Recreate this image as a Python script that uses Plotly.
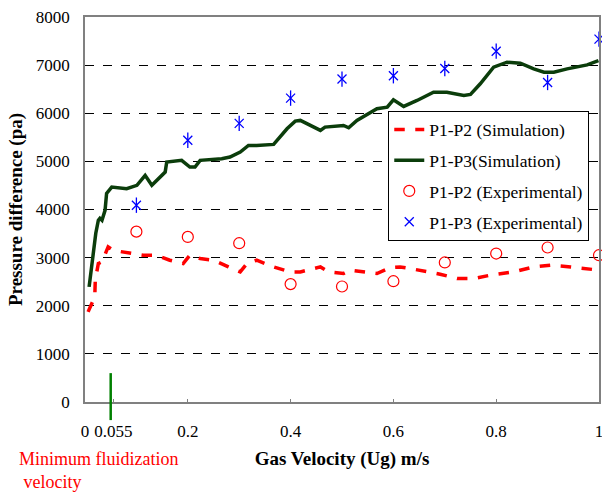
import plotly.graph_objects as go

# Simulation P1-P2 (red dashed)
sim12_x = [0.006, 0.013, 0.019, 0.020, 0.023, 0.026, 0.033, 0.045, 0.055, 0.070, 0.094, 0.113,
           0.139, 0.165, 0.191, 0.204, 0.224, 0.250, 0.279, 0.302, 0.315, 0.334, 0.367, 0.399,
           0.419, 0.458, 0.474, 0.503, 0.516, 0.542, 0.568, 0.594, 0.613, 0.633, 0.672, 0.691,
           0.724, 0.756, 0.789, 0.834, 0.873, 0.906, 0.945, 0.984, 1.0]
sim12_y = [1873, 2048, 2185, 2531, 2670, 2877, 2911, 3222, 3150, 3120, 3085, 3050,
           3050, 2946, 2877, 3050, 2981, 2946, 2807, 2703, 2877, 2946, 2807, 2703,
           2703, 2807, 2703, 2670, 2739, 2703, 2670, 2794, 2807, 2773, 2703, 2656,
           2566, 2566, 2635, 2703, 2807, 2842, 2807, 2753, 2739]

# Simulation P1-P3 (green solid)
sim13_x = [0.008, 0.021, 0.026, 0.029, 0.033, 0.039, 0.042, 0.052, 0.081, 0.101, 0.117, 0.130,
           0.156, 0.159, 0.188, 0.204, 0.214, 0.224, 0.266, 0.282, 0.302, 0.318, 0.334, 0.367,
           0.393, 0.409, 0.419, 0.432, 0.458, 0.467, 0.503, 0.513, 0.529, 0.568, 0.588, 0.600,
           0.620, 0.646, 0.678, 0.704, 0.737, 0.750, 0.769, 0.795, 0.821, 0.847, 0.873, 0.893,
           0.912, 0.938, 0.977, 0.999]
sim13_y = [2392, 3506, 3776, 3817, 3776, 3983, 4336, 4467, 4433, 4502, 4710, 4502,
           4778, 4986, 5021, 4882, 4882, 5021, 5056, 5089, 5193, 5332, 5332, 5353,
           5678, 5836, 5851, 5782, 5643, 5712, 5747, 5699, 5851, 6093, 6127, 6280,
           6141, 6266, 6438, 6438, 6369, 6390, 6612, 6957, 7061, 7040, 6922, 6853,
           6853, 6922, 7005, 7095]

# Experimental
exp_x = [0.1, 0.2, 0.3, 0.4, 0.5, 0.6, 0.7, 0.8, 0.9, 1.0]
exp12_y = [3540, 3430, 3300, 2450, 2400, 2510, 2900, 3085, 3210, 3050]
exp13_y = [4090, 5440, 5790, 6315, 6710, 6780, 6930, 7290, 6640, 7540]

x_tickvals = [0, 0.055, 0.2, 0.4, 0.6, 0.8, 1]
x_ticktext = ["0", "0.055", "0.2", "0.4", "0.6", "0.8", "1"]
y_tickvals = [0, 1000, 2000, 3000, 4000, 5000, 6000, 7000, 8000]

umf = 0.05
umf_marker_top = 600

serif = "Liberation Serif"

fig = go.Figure()
fig.add_trace(go.Scatter(x=sim12_x, y=sim12_y, mode="lines", name="P1-P2 (Simulation)",
                         line=dict(color="#ff0000", width=3.5, dash="dash"),
                         legendgroup="a", cliponaxis=False))
fig.add_trace(go.Scatter(x=sim13_x, y=sim13_y, mode="lines", name="P1-P3(Simulation)",
                         line=dict(color="#0b3d0b", width=3.5), legendgroup="b"))
fig.add_trace(go.Scatter(x=exp_x, y=exp12_y, mode="markers", name="P1-P2 (Experimental)",
                         marker=dict(symbol="circle-open", color="#ff0000", size=11,
                                     line=dict(width=1.2)), legendgroup="c",
                         cliponaxis=False))
fig.add_trace(go.Scatter(x=exp_x, y=exp13_y, mode="markers", name="P1-P3 (Experimental)",
                         marker=dict(symbol="x-thin-open", color="#0000ff", size=9,
                                     line=dict(width=1.3, color="#0000ff")), legendgroup="d",
                         cliponaxis=False))
fig.add_trace(go.Scatter(x=exp_x, y=exp13_y, mode="markers", showlegend=False,
                         marker=dict(symbol="line-ns-open", color="#0000ff", size=11,
                                     line=dict(width=1.3, color="#0000ff")), legendgroup="d",
                         cliponaxis=False, hoverinfo="skip"))

# Minimum fluidization marker line
fig.add_shape(type="line", xref="x domain", yref="y domain",
              x0=umf, x1=umf, y0=umf_marker_top / 8000, y1=-0.047,
              line=dict(color="#008000", width=2.5))

fig.add_annotation(text="Minimum fluidization<br> velocity", xref="paper", yref="paper",
                   x=-0.132, y=-0.118, xanchor="left", yanchor="top", showarrow=False,
                   align="left", font=dict(family=serif, size=18, color="#ff0000"))

fig.update_layout(
    width=602, height=495,
    margin=dict(l=85, r=3, t=17, b=93),
    paper_bgcolor="white", plot_bgcolor="white",
    font=dict(family=serif, size=17, color="black"),
    showlegend=True,
    legend=dict(x=0.59, y=0.757, xanchor="left", yanchor="top",
                bgcolor="white", bordercolor="black", borderwidth=1,
                font=dict(family=serif, size=17.5, color="black"),
                traceorder="grouped", tracegroupgap=5),
    xaxis=dict(range=[0, 1], tickvals=x_tickvals, ticktext=x_ticktext, automargin=False,
               showgrid=False, zeroline=False, showline=True, linecolor="#808080",
               linewidth=1.5, mirror=True, ticks="inside", ticklen=3, tickcolor="#808080",
               ticklabelstandoff=13, tickfont=dict(size=17), ticklabeloverflow="allow",
               title=dict(text="<b>Gas Velocity (Ug) m/s</b>", standoff=12,
                          font=dict(family=serif, size=19))),
    yaxis=dict(range=[0, 8000], tickvals=y_tickvals, showgrid=True, gridcolor="black",
               griddash="dash", gridwidth=1, zeroline=False, showline=True, automargin=False,
               linecolor="#808080", linewidth=1.5, mirror=True, ticks="",
               ticklabelstandoff=10, tickfont=dict(size=17),
               title=dict(text="<b>Pressure difference (pa)</b>", standoff=8,
                          font=dict(family=serif, size=19))),
)

fig.write_html("out.html", config={"displayModeBar": False},
               post_script="document.body.style.margin='0';document.body.style.overflow='hidden';")
